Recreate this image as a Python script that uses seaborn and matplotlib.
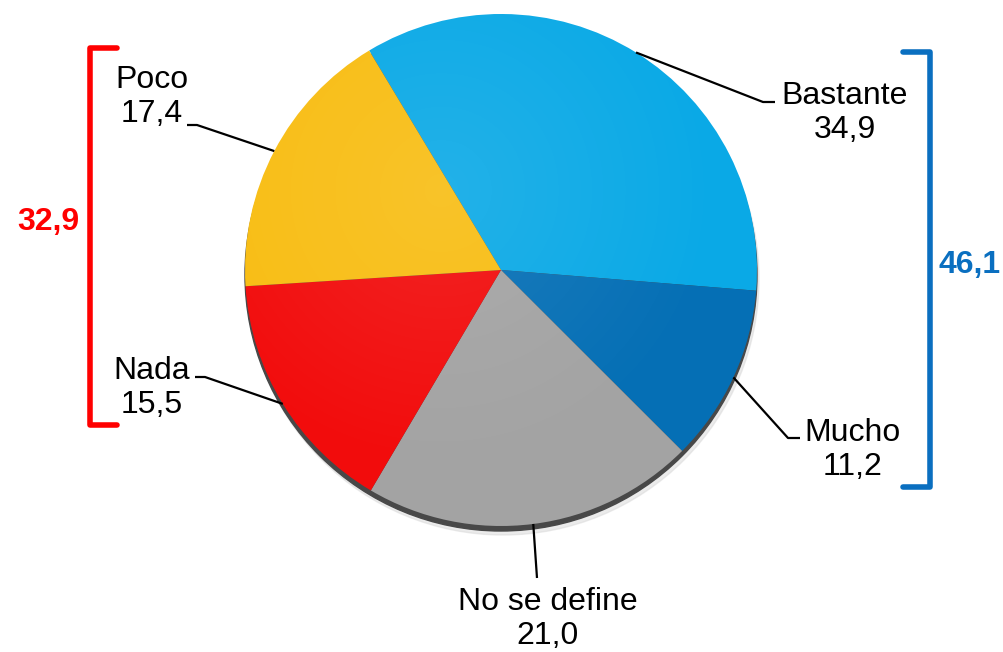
import numpy as np
import seaborn as sns
import matplotlib.pyplot as plt
from matplotlib.patches import Circle

categorias = ["Bastante", "Mucho", "No se define", "Nada", "Poco"]
valores = [34.9, 11.2, 21.0, 15.5, 17.4]
etiquetas_valor = ["34,9", "11,2", "21,0", "15,5", "17,4"]
total_rojo = "32,9"   # Nada + Poco
total_azul = "46,1"   # Bastante + Mucho

colores = ["#0aa9e6", "#056fb5", "#a3a3a3", "#f20c0c", "#f8bd12"]

sns.set_style("white")
plt.rcParams['font.family'] = ['Liberation Sans', 'DejaVu Sans']
plt.rcParams['text.color'] = 'black'

fig = plt.figure(figsize=(10.04, 6.52), dpi=100)
ax = fig.add_axes([0, 0, 1, 1])

cx, cy, r = 501, 382, 256
inicio = 121

# borde oscuro inferior (efecto 3D)
ax.add_patch(Circle((cx, cy - 5), r, color="#484848", zorder=1))
ax.add_patch(Circle((cx + 2, cy - 9), r, color="#d8d8d8", alpha=0.5, zorder=0))

wedges, _ = ax.pie(valores, colors=colores, startangle=inicio, counterclock=False,
                   center=(cx, cy), radius=r, frame=True,
                   wedgeprops=dict(linewidth=0, zorder=2))
ax.set_xlim(0, 1004)
ax.set_ylim(0, 652)
ax.set_aspect('equal')
ax.axis('off')

# brillo suave
yy, xx = np.mgrid[0:652, 0:1004]
dist = np.hypot(xx - (cx - 60), (652 - yy) - (cy + 80)) / r
brillo = np.clip(0.10 - 0.09 * dist, 0, None)
img = np.zeros((652, 1004, 4))
img[..., :3] = 1
img[..., 3] = brillo
im = ax.imshow(img, extent=(0, 1004, 0, 652), zorder=3)
im.set_clip_path(Circle((cx, cy), r, transform=ax.transData))

# posiciones de texto y codo de la línea guía (pixeles, y desde arriba)
texto_pos = [(845, 113), (853, 450), (548, 619), (152, 388), (152, 97)]
codo = [(763, 102), (788, 438), (537, 578), (205, 377), (197, 125)]
fin_h = [(775, 102), (800, 438), (537, 578), (195, 377), (187, 125)]

for w, cat, val, tp, cd, fh in zip(wedges, categorias, etiquetas_valor, texto_pos, codo, fin_h):
    ang = np.deg2rad((w.theta1 + w.theta2) / 2)
    px, py = cx + r * np.cos(ang), cy + r * np.sin(ang)
    ax.plot([px, cd[0], fh[0]], [py, 652 - cd[1], 652 - fh[1]], color="black",
            lw=1.6, zorder=4, solid_capstyle='butt')
    ax.text(tp[0], 652 - tp[1], cat + "\n" + val, ha='center', va='center',
            fontsize=23, linespacing=1.15, zorder=5)

# corchete rojo
ax.plot([117, 90, 90, 117], [652 - 48, 652 - 48, 652 - 425, 652 - 425],
        color="#ff0000", lw=4, solid_joinstyle='round')
ax.text(48, 652 - 222, total_rojo, color="#ff0000", fontsize=23,
        fontweight='bold', ha='center', va='center')

# corchete azul
ax.plot([903, 930, 930, 903], [652 - 52, 652 - 52, 652 - 487, 652 - 487],
        color="#0a6fc0", lw=4, solid_joinstyle='round')
ax.text(970, 652 - 265, total_azul, color="#0a6fc0", fontsize=23,
        fontweight='bold', ha='center', va='center')

fig.savefig("out.png", dpi=100)
